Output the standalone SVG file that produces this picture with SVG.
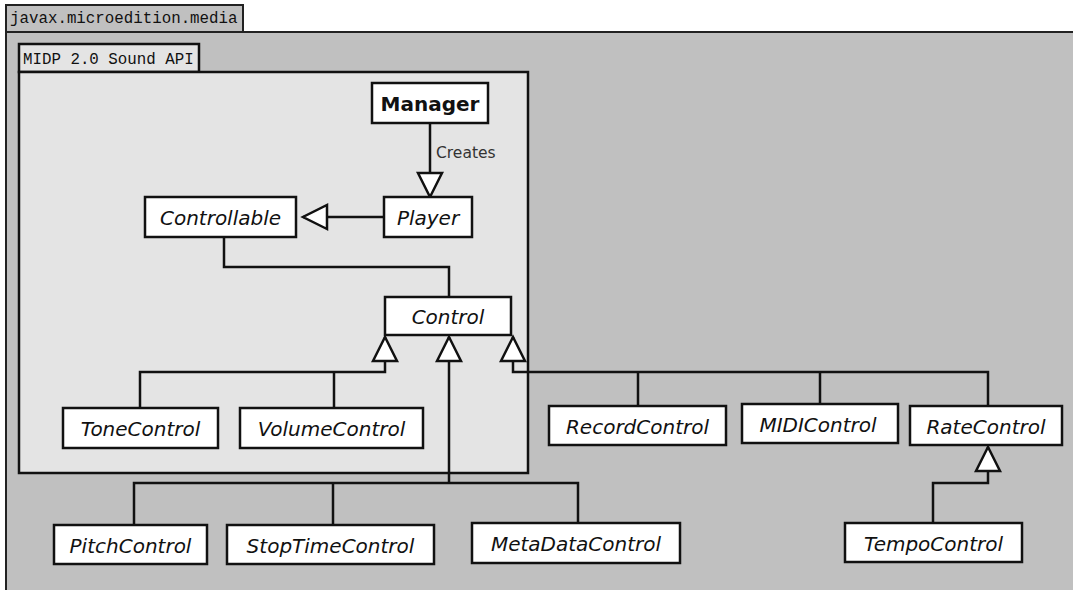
<svg xmlns="http://www.w3.org/2000/svg" width="1073" height="590" viewBox="0 0 1073 590">
  <defs>
    <style>
      .pkg-outer { fill: #c0c0c0; stroke: #222; stroke-width: 2; }
      .pkg-inner { fill: #e4e4e4; stroke: #111; stroke-width: 2.5; }
      .pkg-label { font-family: "Liberation Mono", "DejaVu Sans Mono", monospace; font-size: 15.8px; fill: #111; }
      .box { fill: #fff; stroke: #111; stroke-width: 2.5; }
      .name { font-family: "DejaVu Sans", Verdana, sans-serif; font-size: 20px; font-style: italic; fill: #111; text-anchor: middle; }
      .name.concrete { font-style: normal; font-weight: bold; }
      .edge { fill: none; stroke: #111; stroke-width: 2.5; }
      .gen { marker-end: url(#hollow); }
      .edge-label { font-family: "DejaVu Sans", Verdana, sans-serif; font-size: 15.5px; fill: #333; }
    </style>
    <!-- hollow triangle for generalization / creation arrows -->
    <marker id="hollow" markerUnits="userSpaceOnUse" viewBox="-2 -2 28 28" refX="24" refY="12" markerWidth="28" markerHeight="28" orient="auto" overflow="visible">
      <path d="M0,0 L24,12 L0,24 Z" fill="#fff" stroke="#111" stroke-width="2.5" stroke-linejoin="miter"/>
    </marker>
  </defs>

  <rect width="1073" height="590" fill="#fff"/>

  <!-- package javax.microedition.media -->
  <g id="pkg-media">
    <rect class="pkg-outer" x="6" y="5" width="237" height="27"/>
    <rect class="pkg-outer" x="6" y="32" width="1100" height="600"/>
    <text class="pkg-label" x="10" y="23">javax.microedition.media</text>
  </g>

  <!-- package MIDP 2.0 Sound API -->
  <g id="pkg-midp">
    <rect class="pkg-inner" x="19" y="44" width="180" height="28"/>
    <rect class="pkg-inner" x="19" y="72" width="509" height="401"/>
    <text class="pkg-label" x="23" y="64">MIDP 2.0 Sound API</text>
  </g>

  <!-- connectors -->
  <g id="connectors">
    <path class="edge gen" d="M430,123 V197"/>
    <text class="edge-label" x="436" y="158">Creates</text>
    <path class="edge gen" d="M384,217 H303"/>
    <path class="edge" d="M224,237 V267 H449 V297"/>

    <path class="edge gen" d="M140,408 V372 H385 V337"/>
    <path class="edge" d="M334,408 V372"/>

    <path class="edge" d="M134,525 V483 H578 V523"/>
    <path class="edge" d="M333,525 V483"/>
    <path class="edge gen" d="M449,483 V337"/>

    <path class="edge gen" d="M988,406 V372 H513 V337"/>
    <path class="edge" d="M638,406 V372"/>
    <path class="edge" d="M820,404 V372"/>

    <path class="edge gen" d="M933,523 V483 H988 V447"/>
  </g>

  <!-- classes -->
  <g id="Manager">
    <rect class="box" x="372" y="83" width="116" height="40"/>
    <text class="name concrete" x="430" y="111">Manager</text>
  </g>
  <g id="Player">
    <rect class="box" x="384" y="197" width="88" height="40"/>
    <text class="name" x="428" y="225">Player</text>
  </g>
  <g id="Controllable">
    <rect class="box" x="145" y="197" width="151" height="40"/>
    <text class="name" x="220.5" y="225">Controllable</text>
  </g>
  <g id="Control">
    <rect class="box" x="385" y="297" width="126" height="38"/>
    <text class="name" x="448" y="323.5">Control</text>
  </g>
  <g id="ToneControl">
    <rect class="box" x="63" y="408" width="155" height="40"/>
    <text class="name" x="140.5" y="436">ToneControl</text>
  </g>
  <g id="VolumeControl">
    <rect class="box" x="240" y="408" width="183" height="40"/>
    <text class="name" x="331.5" y="436">VolumeControl</text>
  </g>
  <g id="RecordControl">
    <rect class="box" x="549" y="406" width="177" height="39"/>
    <text class="name" x="637.5" y="433.5">RecordControl</text>
  </g>
  <g id="MIDIControl">
    <rect class="box" x="742" y="404" width="156" height="39"/>
    <text class="name" x="818" y="431.5">MIDIControl</text>
  </g>
  <g id="RateControl">
    <rect class="box" x="910" y="406" width="152" height="39"/>
    <text class="name" x="986" y="433.5">RateControl</text>
  </g>
  <g id="PitchControl">
    <rect class="box" x="54" y="525" width="153" height="39"/>
    <text class="name" x="130.5" y="552.5">PitchControl</text>
  </g>
  <g id="StopTimeControl">
    <rect class="box" x="227" y="525" width="207" height="39"/>
    <text class="name" x="330.5" y="552.5">StopTimeControl</text>
  </g>
  <g id="MetaDataControl">
    <rect class="box" x="472" y="523" width="208" height="40"/>
    <text class="name" x="576" y="551">MetaDataControl</text>
  </g>
  <g id="TempoControl">
    <rect class="box" x="845" y="523" width="177" height="39"/>
    <text class="name" x="933.5" y="550.5">TempoControl</text>
  </g>
</svg>
